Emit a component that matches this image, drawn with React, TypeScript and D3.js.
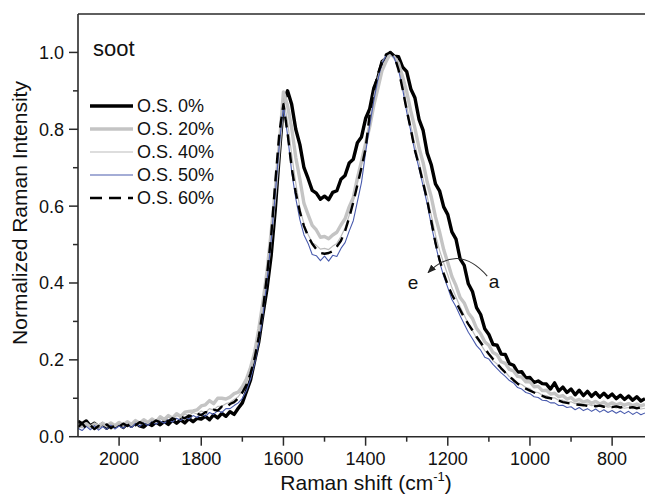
import React from "react";
import * as d3 from "d3";

// Raman shift grid (cm^-1), 2100 -> 720 in steps of 10
const shifts: number[] = d3.range(2100, 719, -10);

const os0: number[] = [
  0.040, 0.034, 0.041, 0.028, 0.035, 0.026, 0.034, 0.022, 0.031, 0.026,
  0.032, 0.024, 0.034, 0.027, 0.037, 0.028, 0.025, 0.035, 0.029, 0.038,
  0.031, 0.040, 0.032, 0.043, 0.035, 0.044, 0.036, 0.047, 0.039, 0.048,
  0.046, 0.053, 0.044, 0.057, 0.049, 0.061, 0.053, 0.065, 0.058, 0.074,
  0.088, 0.118, 0.148, 0.198, 0.247, 0.318, 0.385, 0.470, 0.590, 0.735,
  0.868, 0.900, 0.865, 0.800, 0.760, 0.700, 0.672, 0.641, 0.634, 0.618,
  0.626, 0.617, 0.636, 0.640, 0.670, 0.680, 0.712, 0.722, 0.765, 0.780,
  0.828, 0.853, 0.907, 0.934, 0.976, 0.985, 1.000, 0.990, 0.989, 0.962,
  0.950, 0.905, 0.882, 0.826, 0.797, 0.738, 0.707, 0.658, 0.640, 0.598,
  0.578, 0.533, 0.514, 0.463, 0.446, 0.398, 0.378, 0.336, 0.318, 0.281,
  0.266, 0.240, 0.238, 0.215, 0.214, 0.190, 0.186, 0.168, 0.169, 0.153,
  0.154, 0.141, 0.145, 0.138, 0.137, 0.124, 0.140, 0.119, 0.129, 0.115,
  0.124, 0.109, 0.121, 0.107, 0.118, 0.105, 0.115, 0.103, 0.113, 0.102,
  0.111, 0.099, 0.108, 0.097, 0.106, 0.095, 0.104, 0.093, 0.099,
];

const os20: number[] = [
  0.030, 0.026, 0.034, 0.025, 0.033, 0.027, 0.035, 0.028, 0.036, 0.029,
  0.037, 0.030, 0.039, 0.032, 0.042, 0.035, 0.044, 0.037, 0.046, 0.039,
  0.052, 0.045, 0.055, 0.048, 0.060, 0.053, 0.064, 0.066, 0.067, 0.070,
  0.080, 0.083, 0.094, 0.086, 0.100, 0.100, 0.098, 0.103, 0.112, 0.116,
  0.130, 0.150, 0.180, 0.220, 0.280, 0.350, 0.430, 0.530, 0.640, 0.760,
  0.897, 0.862, 0.803, 0.727, 0.670, 0.607, 0.578, 0.550, 0.538, 0.519,
  0.521, 0.515, 0.525, 0.532, 0.551, 0.567, 0.598, 0.622, 0.673, 0.717,
  0.763, 0.807, 0.863, 0.907, 0.953, 0.977, 0.997, 0.987, 0.972, 0.937,
  0.898, 0.847, 0.803, 0.752, 0.713, 0.662, 0.623, 0.572, 0.533, 0.487,
  0.453, 0.417, 0.393, 0.362, 0.348, 0.322, 0.308, 0.282, 0.268, 0.247,
  0.238, 0.219, 0.213, 0.195, 0.191, 0.175, 0.171, 0.157, 0.155, 0.143,
  0.143, 0.130, 0.131, 0.120, 0.121, 0.111, 0.113, 0.104, 0.107, 0.098,
  0.102, 0.093, 0.097, 0.090, 0.094, 0.087, 0.092, 0.085, 0.090, 0.083,
  0.088, 0.083, 0.087, 0.082, 0.086, 0.081, 0.085, 0.080, 0.084,
];

const os40: number[] = [
  0.028, 0.024, 0.031, 0.025, 0.033, 0.026, 0.032, 0.028, 0.035, 0.029,
  0.034, 0.029, 0.037, 0.032, 0.040, 0.034, 0.042, 0.037, 0.045, 0.039,
  0.047, 0.042, 0.051, 0.046, 0.055, 0.050, 0.059, 0.055, 0.063, 0.059,
  0.067, 0.063, 0.073, 0.069, 0.079, 0.079, 0.086, 0.089, 0.097, 0.104,
  0.120, 0.140, 0.170, 0.210, 0.265, 0.335, 0.425, 0.525, 0.645, 0.770,
  0.880, 0.820, 0.735, 0.660, 0.595, 0.553, 0.526, 0.505, 0.498, 0.488,
  0.490, 0.487, 0.496, 0.503, 0.521, 0.543, 0.576, 0.613, 0.661, 0.708,
  0.760, 0.825, 0.885, 0.935, 0.975, 0.995, 1.000, 0.985, 0.960, 0.920,
  0.860, 0.810, 0.760, 0.715, 0.670, 0.625, 0.575, 0.525, 0.485, 0.452,
  0.421, 0.388, 0.363, 0.338, 0.316, 0.293, 0.276, 0.256, 0.241, 0.224,
  0.213, 0.198, 0.189, 0.176, 0.169, 0.156, 0.151, 0.140, 0.136, 0.128,
  0.125, 0.116, 0.115, 0.108, 0.107, 0.101, 0.101, 0.095, 0.095, 0.090,
  0.091, 0.086, 0.088, 0.083, 0.085, 0.081, 0.083, 0.079, 0.081, 0.077,
  0.079, 0.075, 0.078, 0.074, 0.076, 0.073, 0.075, 0.072, 0.074,
];

const os50: number[] = [
  0.022, 0.016, 0.027, 0.018, 0.029, 0.017, 0.026, 0.019, 0.030, 0.020,
  0.028, 0.022, 0.031, 0.024, 0.034, 0.027, 0.036, 0.029, 0.039, 0.032,
  0.041, 0.035, 0.044, 0.038, 0.048, 0.042, 0.051, 0.046, 0.055, 0.050,
  0.059, 0.053, 0.063, 0.058, 0.068, 0.063, 0.073, 0.073, 0.081, 0.088,
  0.100, 0.120, 0.150, 0.190, 0.245, 0.315, 0.405, 0.510, 0.630, 0.760,
  0.860, 0.785, 0.690, 0.620, 0.565, 0.525, 0.503, 0.474, 0.471, 0.458,
  0.470, 0.457, 0.472, 0.469, 0.490, 0.505, 0.535, 0.562, 0.612, 0.662,
  0.740, 0.810, 0.875, 0.930, 0.972, 0.993, 1.000, 0.985, 0.955, 0.905,
  0.845, 0.795, 0.742, 0.698, 0.652, 0.605, 0.550, 0.500, 0.455, 0.418,
  0.388, 0.357, 0.338, 0.315, 0.293, 0.272, 0.255, 0.237, 0.225, 0.207,
  0.202, 0.188, 0.177, 0.166, 0.157, 0.146, 0.140, 0.128, 0.124, 0.115,
  0.112, 0.104, 0.102, 0.095, 0.094, 0.088, 0.088, 0.081, 0.082, 0.076,
  0.078, 0.070, 0.076, 0.068, 0.073, 0.066, 0.072, 0.064, 0.070, 0.063,
  0.068, 0.061, 0.067, 0.060, 0.066, 0.058, 0.064, 0.057, 0.062,
];

const os60: number[] = [
  0.025, 0.035, 0.022, 0.030, 0.020, 0.028, 0.024, 0.032, 0.022, 0.030,
  0.026, 0.034, 0.028, 0.036, 0.030, 0.038, 0.033, 0.040, 0.035, 0.042,
  0.038, 0.045, 0.040, 0.048, 0.044, 0.052, 0.048, 0.055, 0.052, 0.060,
  0.056, 0.064, 0.062, 0.070, 0.068, 0.078, 0.075, 0.085, 0.090, 0.100,
  0.115, 0.135, 0.165, 0.205, 0.260, 0.330, 0.420, 0.520, 0.660, 0.790,
  0.865, 0.790, 0.700, 0.635, 0.585, 0.548, 0.522, 0.502, 0.488, 0.478,
  0.476, 0.478, 0.483, 0.495, 0.510, 0.535, 0.570, 0.610, 0.655, 0.700,
  0.750, 0.840, 0.900, 0.945, 0.975, 0.995, 1.000, 0.990, 0.955, 0.905,
  0.850, 0.800, 0.745, 0.705, 0.660, 0.615, 0.560, 0.505, 0.460, 0.425,
  0.395, 0.370, 0.350, 0.330, 0.310, 0.293, 0.277, 0.260, 0.245, 0.230,
  0.215, 0.202, 0.190, 0.178, 0.167, 0.157, 0.147, 0.138, 0.131, 0.125,
  0.120, 0.115, 0.110, 0.106, 0.102, 0.100, 0.097, 0.094, 0.090, 0.088,
  0.086, 0.084, 0.083, 0.082, 0.080, 0.082, 0.079, 0.081, 0.078, 0.080,
  0.077, 0.079, 0.076, 0.078, 0.075, 0.077, 0.074, 0.076, 0.073,
];

const legendLabels: string[] = ["O.S. 0%", "O.S. 20%", "O.S. 40%", "O.S. 50%", "O.S. 60%"];
const xTickValues: number[] = [2000, 1800, 1600, 1400, 1200, 1000, 800];
const xMinorValues: number[] = [1900, 1700, 1500, 1300, 1100, 900];
const yTickValues: number[] = [0, 0.2, 0.4, 0.6, 0.8, 1.0];
const yMinorValues: number[] = [0.1, 0.3, 0.5, 0.7, 0.9];

const W = 645;
const H = 500;
const FONT = "'Liberation Sans', Arial, Helvetica, sans-serif";

export default function App() {
  const x = d3.scaleLinear().domain([2100, 720]).range([78, 645]);
  const y = d3.scaleLinear().domain([0, 1.1]).range([436.7, 14]);

  const seriesList = [
    { label: legendLabels[0], values: os0, color: "#000000", width: 3.4, dash: "" },
    { label: legendLabels[1], values: os20, color: "#c4c4c4", width: 3.4, dash: "" },
    { label: legendLabels[2], values: os40, color: "#bcbcbc", width: 1.2, dash: "" },
    { label: legendLabels[3], values: os50, color: "#4a5cae", width: 1.1, dash: "" },
    { label: legendLabels[4], values: os60, color: "#000000", width: 2.4, dash: "11,7" },
  ];

  const line = d3
    .line<number>()
    .x((_, i) => x(shifts[i]))
    .y((d) => y(d));

  const axisColor = "#2a2a2a";
  const x0 = x.range()[0];
  const y0 = y.range()[0];

  // annotation arc (data coordinates)
  const arcStart = [x(1104), y(0.418)];
  const arcCtrl = [x(1175), y(0.505)];
  const arcEnd = [x(1248), y(0.427)];

  return (
    <svg
      width={W}
      height={H}
      style={{ position: "absolute", left: 0, top: 0, background: "#fff" }}
      fontFamily={FONT}
    >
      <defs>
        <clipPath id="plotclip">
          <rect x={x0} y={14} width={645 - x0} height={y0 - 14} />
        </clipPath>
        <marker
          id="arrow"
          viewBox="0 0 10 8"
          refX="9"
          refY="4"
          markerWidth="9"
          markerHeight="7"
          markerUnits="userSpaceOnUse"
          orient="auto"
        >
          <path d="M0,0 L10,4 L0,8 z" fill="#222" />
        </marker>
      </defs>

      <g clipPath="url(#plotclip)">
        {seriesList.map((s) => (
          <path
            key={s.label}
            d={line(s.values) || ""}
            fill="none"
            stroke={s.color}
            strokeWidth={s.width}
            strokeDasharray={s.dash || undefined}
            strokeLinejoin="round"
          />
        ))}
      </g>

      {/* frame: left, bottom, top */}
      <line x1={x0} y1={14} x2={x0} y2={y0} stroke={axisColor} strokeWidth={1.6} />
      <line x1={x0} y1={y0} x2={645} y2={y0} stroke={axisColor} strokeWidth={1.6} />
      <line x1={x0} y1={14} x2={645} y2={14} stroke={axisColor} strokeWidth={1.6} />

      {/* x ticks */}
      {xTickValues.map((v) => (
        <g key={"xt" + v}>
          <line x1={x(v)} x2={x(v)} y1={y0} y2={y0 + 9} stroke={axisColor} strokeWidth={1.5} />
          <text x={x(v)} y={y0 + 28} textAnchor="middle" fontSize={18} fill="#111">
            {v}
          </text>
        </g>
      ))}
      {xMinorValues.map((v) => (
        <line key={"xm" + v} x1={x(v)} x2={x(v)} y1={y0} y2={y0 + 5} stroke={axisColor} strokeWidth={1.5} />
      ))}

      {/* y ticks */}
      {yTickValues.map((v) => (
        <g key={"yt" + v}>
          <line x1={x0 - 9} x2={x0} y1={y(v)} y2={y(v)} stroke={axisColor} strokeWidth={1.5} />
          <text x={x0 - 14} y={y(v)} dy="0.36em" textAnchor="end" fontSize={18} fill="#111">
            {v.toFixed(1)}
          </text>
        </g>
      ))}
      {yMinorValues.map((v) => (
        <line key={"ym" + v} x1={x0 - 5} x2={x0} y1={y(v)} y2={y(v)} stroke={axisColor} strokeWidth={1.5} />
      ))}

      {/* axis titles */}
      <text x={366} y={490} textAnchor="middle" fontSize={21} fill="#111">
        Raman shift (cm
        <tspan fontSize={13} dy={-9}>-1</tspan>
        <tspan dy={9}>)</tspan>
      </text>
      <text
        transform="translate(27,213) rotate(-90)"
        textAnchor="middle"
        fontSize={21}
        fill="#111"
      >
        Normalized Raman Intensity
      </text>

      {/* sample label */}
      <text x={93} y={56} fontSize={22} fill="#111">
        soot
      </text>

      {/* legend */}
      {seriesList.map((s, i) => {
        const ly = 106 + i * 23;
        return (
          <g key={"lg" + i}>
            <line
              x1={90}
              x2={133}
              y1={ly}
              y2={ly}
              stroke={s.color}
              strokeWidth={s.width}
              strokeDasharray={s.dash ? "12,7" : undefined}
            />
            <text x={137} y={ly} dy="0.36em" fontSize={18} fill="#111">
              {s.label}
            </text>
          </g>
        );
      })}

      {/* annotation arrow a -> e */}
      <path
        d={`M${arcStart[0]},${arcStart[1]} Q${arcCtrl[0]},${arcCtrl[1]} ${arcEnd[0]},${arcEnd[1]}`}
        fill="none"
        stroke="#333"
        strokeWidth={1.1}
        markerEnd="url(#arrow)"
      />
      <text x={413} y={282} dy="0.35em" textAnchor="middle" fontSize={19} fill="#111">
        e
      </text>
      <text x={494} y={281} dy="0.35em" textAnchor="middle" fontSize={19} fill="#111">
        a
      </text>
    </svg>
  );
}
